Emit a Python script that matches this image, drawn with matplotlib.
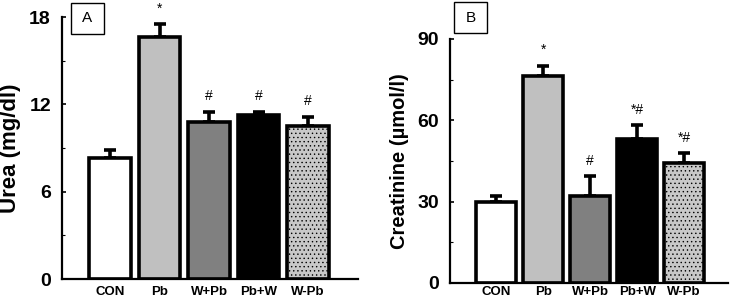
import matplotlib
matplotlib.use("Agg")
import matplotlib.pyplot as plt
from matplotlib.patches import Rectangle
from matplotlib.ticker import MultipleLocator

plt.rcParams['font.family'] = ['Liberation Sans', 'DejaVu Sans']
plt.rcParams['hatch.linewidth'] = 0.5

groups = ["CON", "Pb", "W+Pb", "Pb+W", "W-Pb"]
urea = [8.3, 16.6, 10.8, 11.25, 10.5]
urea_err = [0.55, 0.9, 0.7, 0.25, 0.65]
urea_sig = ["", "*", "#", "#", "#"]
creat = [29.8, 76.2, 32.1, 53.0, 44.2]
creat_err = [2.4, 4.0, 7.4, 5.3, 3.7]
creat_sig = ["", "*", "#", "*#", "*#"]

faces = ["white", "#c0c0c0", "#808080", "black", "#c8c8c8"]
hatches = [None, None, None, None, "...."]

fig = plt.figure(figsize=(7.32, 3.0), dpi=100)

def panel(rect, vals, errs, sigs, ymax, step, ylabel, ylfs, xlim, xpad):
    ax = fig.add_axes(rect)
    x = list(range(len(vals)))
    bars = ax.bar(x, vals, width=0.84, color=faces, edgecolor="black",
                  linewidth=2.6, zorder=2)
    for b, h in zip(bars, hatches):
        if h:
            b.set_hatch(h)
    ax.errorbar(x, vals, yerr=[[0]*len(vals), errs], fmt="none",
                ecolor="black", elinewidth=2.6, capsize=4, capthick=2.6,
                zorder=1)
    for xi, v, e, s in zip(x, vals, errs, sigs):
        if s:
            ax.annotate(s, (xi, v + e), xytext=(0, 6), textcoords="offset points",
                        ha="center", va="bottom", fontsize=10)
    ax.set_ylim(0, ymax)
    ax.set_xlim(*xlim)
    ax.yaxis.set_major_locator(MultipleLocator(step))
    ax.yaxis.set_minor_locator(MultipleLocator(step / 2))
    ax.set_xticks(x)
    ax.set_xticklabels(groups, fontsize=9.5, fontweight="bold")
    for t in ax.get_yticklabels():
        t.set_fontsize(14)
        t.set_fontweight("bold")
    ax.tick_params(axis="y", which="major", direction="in", length=3, width=1.2, pad=8)
    ax.tick_params(axis="y", which="minor", direction="in", length=2, width=0.8)
    ax.tick_params(axis="x", length=0, pad=xpad)
    ax.spines["top"].set_visible(False)
    ax.spines["right"].set_visible(False)
    ax.spines["left"].set_linewidth(1.6)
    ax.spines["bottom"].set_linewidth(1.6)
    ax.set_ylabel(ylabel, fontsize=ylfs, fontweight="bold", labelpad=6)
    ax.patch.set_alpha(0)
    return ax

axA = panel([0.0847, 0.07, 0.404, 0.873], urea, urea_err, urea_sig, 18, 6,
            "Urea (mg/dl)", 16, (-0.97, 5.0), 5)
axB = panel([0.615, 0.0567, 0.38, 0.8133], creat, creat_err, creat_sig, 90, 30,
            "Creatinine (µmol/l)", 14.5, (-0.98, 4.94), 2.5)

for lab, (x0, y0) in [("A", (71, 3)), ("B", (454, 2))]:
    w, h = 33, 31
    fig.patches.append(Rectangle((x0 / 732, 1 - (y0 + h) / 300), w / 732, h / 300,
                                 transform=fig.transFigure, fill=False,
                                 edgecolor="black", linewidth=1.0))
    fig.text((x0 + w / 2) / 732, 1 - (y0 + h / 2) / 300, lab, ha="center",
             va="center", fontsize=11)

fig.savefig("out.png", dpi=100)
